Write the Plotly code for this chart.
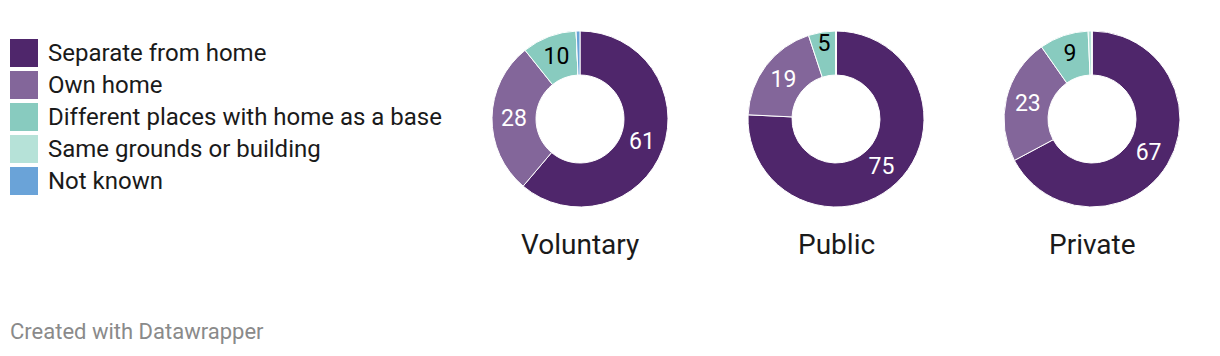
import plotly.graph_objects as go

categories = ["Separate from home", "Own home", "Different places with home as a base",
              "Same grounds or building", "Not known"]
colors = ["#4f266b", "#83669a", "#88cbbf", "#b6e2d8", "#6aa3d8"]
sectors = ["Voluntary", "Public", "Private"]
voluntary = [61, 28, 10, 0, 0.7]
public = [75, 19, 5, 0, 0]
private = [67, 23, 9, 0.7, 0]
series = [voluntary, public, private]

W, H = 1220, 356
centers_x = [580, 836, 1092]
cy = 119
R = 88

fig = go.Figure()
text_colors = ["white", "white", "black", "black", "black"]
for name, vals, cx in zip(sectors, series, centers_x):
    txt = [str(int(round(v))) if v >= 2 else "" for v in vals]
    fig.add_trace(go.Pie(
        labels=categories, values=vals, text=txt, textinfo="text",
        sort=False, direction="clockwise", rotation=0, hole=0.5,
        marker=dict(colors=colors, line=dict(color="white", width=1)),
        textfont=dict(family="Roboto", size=23, color=text_colors),
        textposition="inside", insidetextorientation="horizontal",
        domain=dict(x=[(cx - R) / W, (cx + R) / W], y=[1 - (cy + R) / H, 1 - (cy - R) / H]),
        showlegend=False, hoverinfo="label+value", name=name,
    ))
    fig.add_annotation(x=cx / W, y=1 - 244 / H, xref="paper", yref="paper",
                       text=name, showarrow=False, xanchor="center", yanchor="middle",
                       font=dict(family="Roboto", size=28, color="#1a1a1a"))

# legend
for i, (cat, col) in enumerate(zip(categories, colors)):
    yc = 53 + 32 * i
    fig.add_shape(type="rect", xref="paper", yref="paper",
                  x0=10 / W, x1=38 / W, y0=1 - (yc + 14) / H, y1=1 - (yc - 14) / H,
                  fillcolor=col, line=dict(width=0))
    fig.add_annotation(x=46 / W, y=1 - yc / H, xref="paper", yref="paper", text=cat,
                       showarrow=False, xanchor="left", yanchor="middle",
                       font=dict(family="Roboto", size=24, color="#1a1a1a"))

fig.add_annotation(x=8 / W, y=1 - 331 / H, xref="paper", yref="paper",
                   text="Created with Datawrapper", showarrow=False, xanchor="left",
                   yanchor="middle", font=dict(family="Roboto", size=22, color="#8a8a8a"))

fig.update_layout(width=W, height=H, margin=dict(l=0, r=0, t=0, b=0),
                  paper_bgcolor="white", plot_bgcolor="white",
                  uniformtext=dict(mode="show", minsize=23))
fig.write_html("out.html", config={"displayModeBar": False},
               post_script="document.body.style.margin='0';document.body.style.overflow='hidden';")
